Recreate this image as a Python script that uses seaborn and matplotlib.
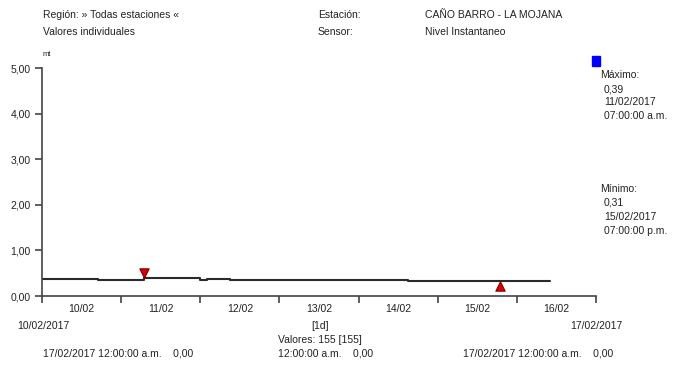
import matplotlib
matplotlib.use("Agg")
import matplotlib.pyplot as plt
import matplotlib.dates as mdates
import matplotlib.transforms as mtransforms
import seaborn as sns
import pandas as pd

# ---- data ----
change_times = ["2017-02-10 00:00", "2017-02-10 17:00", "2017-02-11 07:00",
                "2017-02-12 00:00", "2017-02-12 02:00", "2017-02-12 09:00",
                "2017-02-14 15:00", "2017-02-16 10:00"]
change_levels = [0.38, 0.35, 0.39, 0.36, 0.38, 0.35, 0.32, 0.32]
max_time, max_value = "2017-02-11 07:00", 0.39
min_time, min_value = "2017-02-15 19:00", 0.31
day_labels = ["10/02", "11/02", "12/02", "13/02", "14/02", "15/02", "16/02"]
y_ticks = [0, 1, 2, 3, 4, 5]
y_tick_labels = ["0,00", "1,00", "2,00", "3,00", "4,00", "5,00"]

W, H = 674, 368
sns.set_theme(style="white")
plt.rcParams['font.family'] = ['Liberation Sans', 'DejaVu Sans']
txt = '#222222'
fs = 7.5

fig = plt.figure(figsize=(W / 100, H / 100), dpi=100)
ax = fig.add_axes([42 / W, 1 - 296 / H, (596 - 42) / W, (296 - 68) / H])

df = pd.DataFrame({"t": pd.to_datetime(change_times), "v": change_levels})
sns.lineplot(data=df, x="t", y="v", ax=ax, color="#2a2a2a", lw=1.5,
             drawstyle="steps-post", legend=False)

up = mtransforms.offset_copy(ax.transData, fig=fig, x=0, y=5, units='dots')
dn = mtransforms.offset_copy(ax.transData, fig=fig, x=0, y=-4, units='dots')
dmax = pd.DataFrame({"t": pd.to_datetime([max_time]), "v": [max_value]})
dmin = pd.DataFrame({"t": pd.to_datetime([min_time]), "v": [min_value]})
sns.scatterplot(data=dmax, x="t", y="v", ax=ax, marker="v", s=45,
                color="#e00000", edgecolor="#7a0000", linewidth=0.8,
                transform=up, legend=False, zorder=5)
sns.scatterplot(data=dmin, x="t", y="v", ax=ax, marker="^", s=45,
                color="#e00000", edgecolor="#7a0000", linewidth=0.8,
                transform=dn, legend=False, zorder=5)

ax.set_xlim(pd.Timestamp("2017-02-10"), pd.Timestamp("2017-02-17"))
ax.set_ylim(0, 5)
ax.set_xlabel("")
ax.set_ylabel("")
for s in ["top", "right"]:
    ax.spines[s].set_visible(False)
for s in ["left", "bottom"]:
    ax.spines[s].set_color("#444444")
    ax.spines[s].set_linewidth(1.2)

ax.xaxis.set_major_locator(mdates.DayLocator())
ax.xaxis.set_major_formatter(plt.NullFormatter())
ax.xaxis.set_minor_locator(mdates.HourLocator(byhour=[12]))
ax.xaxis.set_minor_formatter(plt.FixedFormatter(day_labels))
ax.tick_params(axis="x", which="major", direction="out", length=5, width=1.2,
               color="#444444", bottom=True)
ax.tick_params(axis="x", which="minor", length=0, pad=6, labelsize=fs,
               labelcolor=txt, bottom=True)
ax.set_yticks(y_ticks)
ax.set_yticklabels(y_tick_labels)
ax.tick_params(axis="y", direction="out", length=5, width=1.2, color="#444444",
               left=True, pad=3, labelsize=fs, labelcolor=txt)

def T(x, y, s, ha="left", size=fs):
    fig.text(x / W, 1 - y / H, s, ha=ha, va="center", fontsize=size, color=txt)

T(43, 15, "Región: » Todas estaciones «")
T(43, 32, "Valores individuales")
T(318, 15, "Estación:")
T(318, 32, "Sensor:")
T(425, 15, "CAÑO BARRO - LA MOJANA")
T(425, 32, "Nivel Instantaneo")
T(43, 55, "mt", size=5.5)

fig.patches.append(plt.Rectangle((592 / W, 1 - 66 / H), 8 / W, 10 / H,
                                 transform=fig.transFigure, color="#0000ff"))
T(600, 75, "Máximo:")
T(604, 89, "0,39")
T(604, 102, "11/02/2017")
T(604, 116, "07:00:00 a.m.")
T(600, 189, "Mínimo:")
T(604, 203, "0,31")
T(604, 217, "15/02/2017")
T(604, 231, "07:00:00 p.m.")

T(43, 326, "10/02/2017", ha="center")
T(596, 326, "17/02/2017", ha="center")
T(320, 326, "[1d]", ha="center")
T(320, 340, "Valores: 155 [155]", ha="center")
T(43, 354, "17/02/2017 12:00:00 a.m.    0,00")
T(278, 354, "12:00:00 a.m.    0,00")
T(463, 354, "17/02/2017 12:00:00 a.m.    0,00")

fig.savefig("out.png", dpi=100)
